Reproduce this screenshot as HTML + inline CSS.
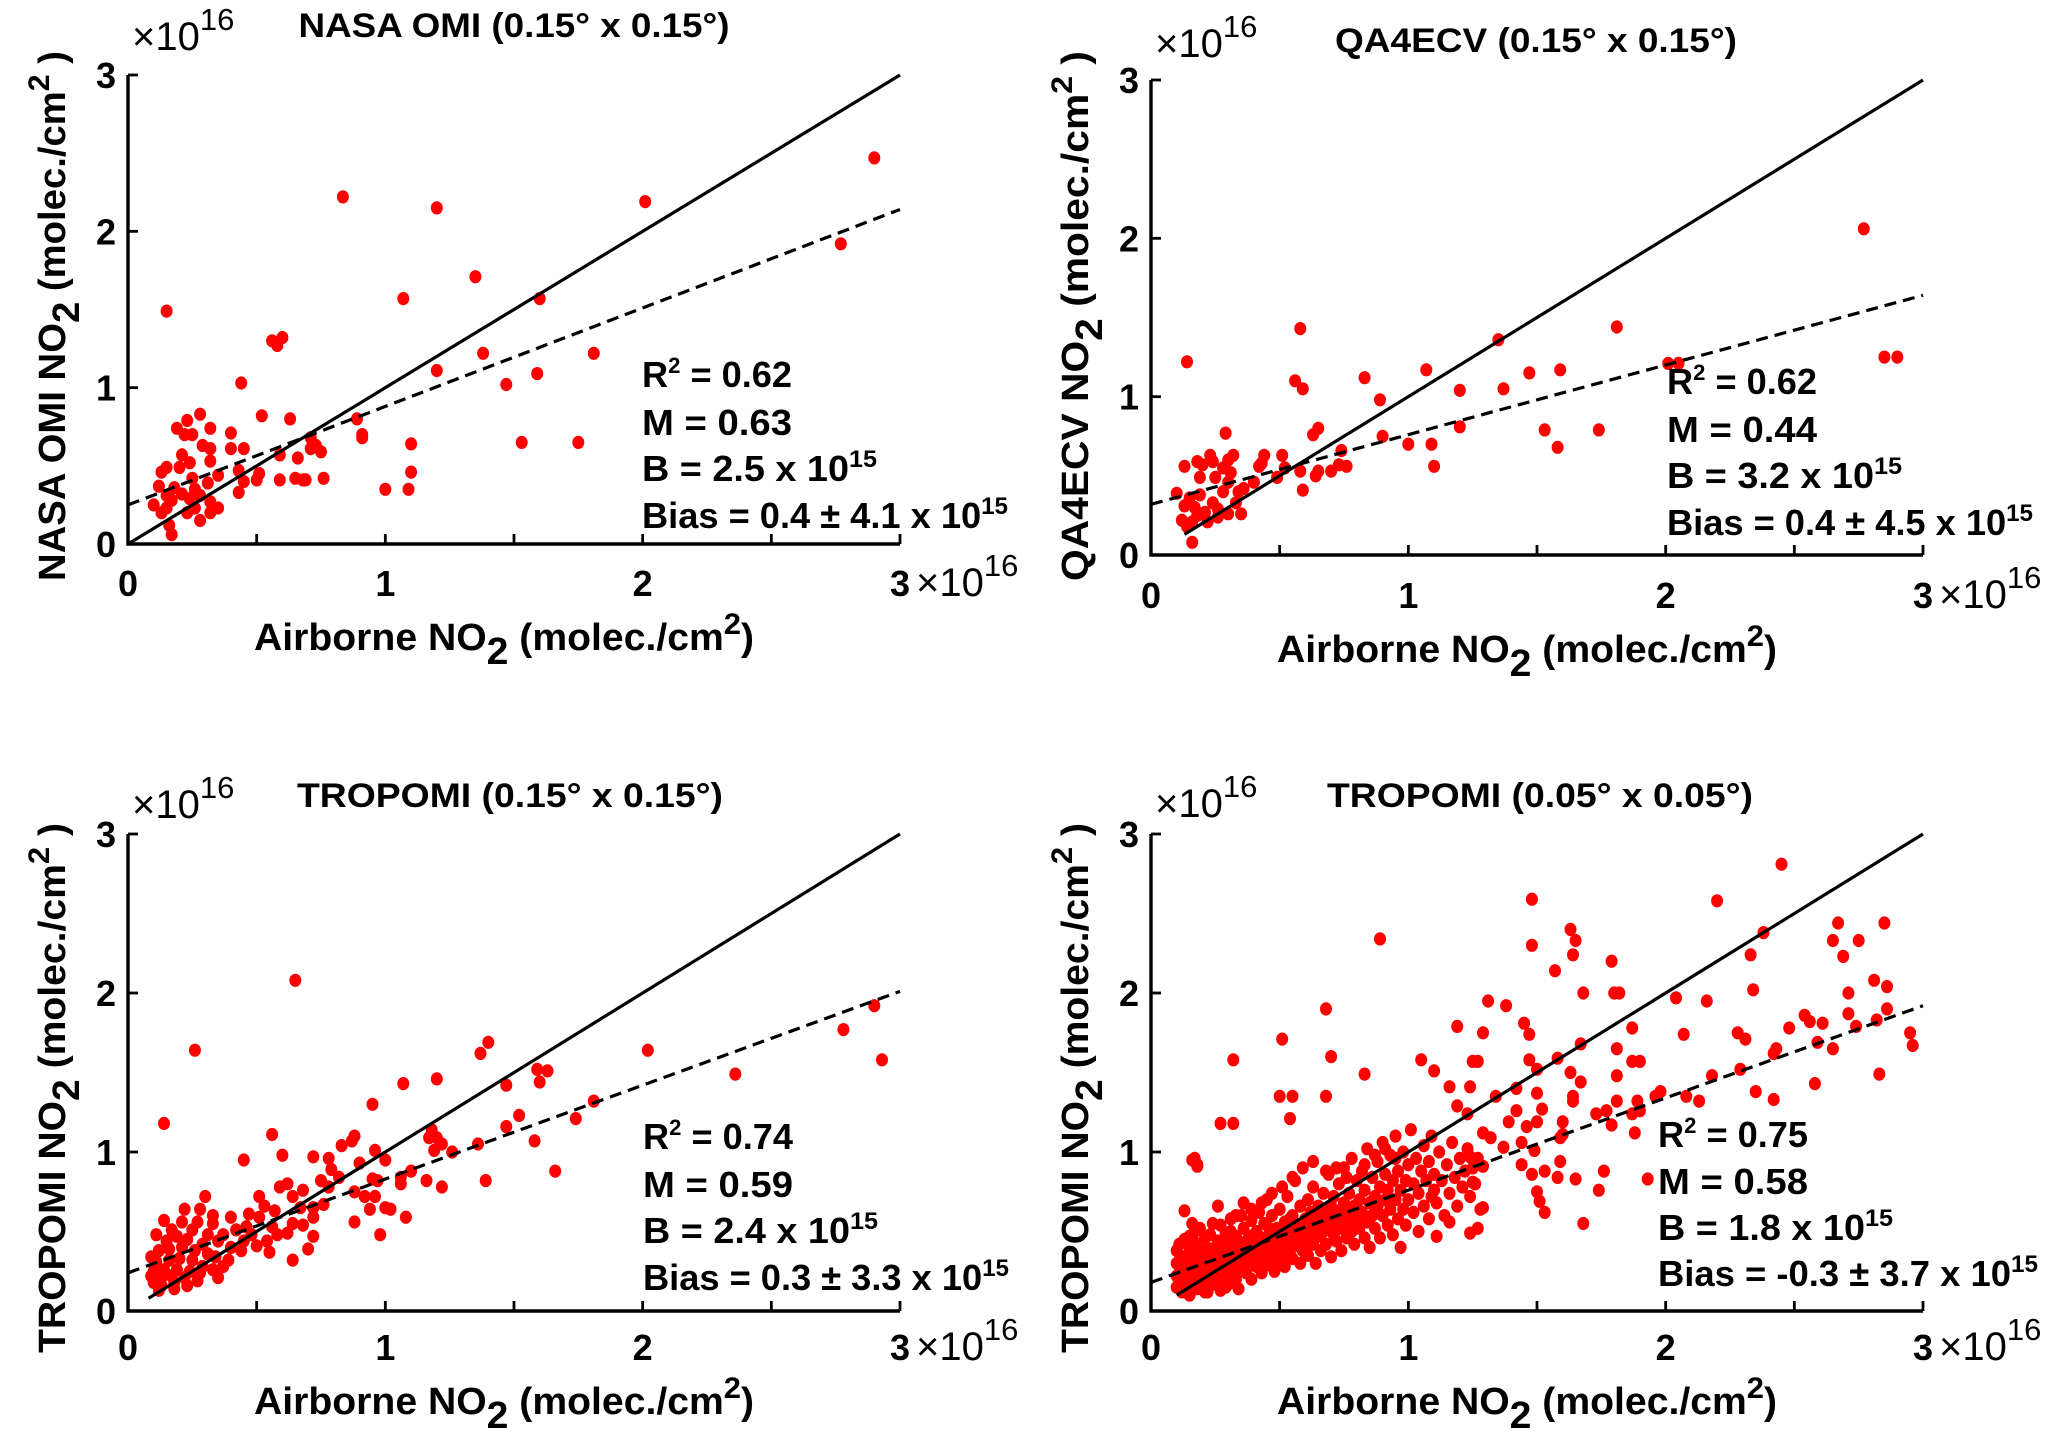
<!DOCTYPE html>
<html>
<head>
<meta charset="utf-8">
<style>
html,body{margin:0;padding:0;background:#fff;}
svg{display:block;font-family:"Liberation Sans",sans-serif;font-weight:bold;}
</style>
</head>
<body>
<svg id="fig" width="2067" height="1451" viewBox="0 0 2067 1451" xmlns="http://www.w3.org/2000/svg"></svg>
<script>
// ---------- data (units of 1e16 molec/cm2) ----------
const tickX = [0, 0.5, 1, 1.5, 2, 2.5, 3];
const tickY = [0, 1, 2, 3];
const tickLabels = ["0", "1", "2", "3"];
const titles = ["NASA OMI (0.15\u00B0 x 0.15\u00B0)", "QA4ECV (0.15\u00B0 x 0.15\u00B0)", "TROPOMI (0.15\u00B0 x 0.15\u00B0)", "TROPOMI (0.05\u00B0 x 0.05\u00B0)"];
const yNames = ["NASA OMI NO", "QA4ECV NO", "TROPOMI NO", "TROPOMI NO"];
const r2Values = ["0.62", "0.62", "0.74", "0.75"];
const slopes = [0.63, 0.44, 0.59, 0.58];
const intercepts = [0.25, 0.32, 0.24, 0.18];
const interceptLabels = ["2.5", "3.2", "2.4", "1.8"];
const biasLabels = ["0.4 \u00B1 4.1", "0.4 \u00B1 4.5", "0.3 \u00B1 3.3", "-0.3 \u00B1 3.7"];
const oneToOneStart = [0, 0.13, 0.08, 0.1];

const tlPoints = [[0.835,2.22],[1.20,2.15],[2.01,2.19],[2.90,2.47],[2.77,1.92],[1.35,1.71],[1.07,1.57],[1.60,1.57],[0.15,1.49],[0.56,1.30],[0.58,1.27],[0.60,1.32],[1.38,1.22],[1.81,1.22],[1.20,1.11],[1.59,1.09],[1.47,1.02],[0.44,1.03],[0.52,0.82],[0.63,0.80],[0.89,0.80],[0.28,0.83],[0.23,0.79],[0.91,0.70],[0.91,0.68],[0.19,0.74],[0.32,0.74],[0.40,0.71],[0.22,0.70],[0.25,0.70],[1.10,0.64],[1.53,0.65],[1.75,0.65],[0.29,0.63],[0.32,0.61],[0.40,0.61],[0.45,0.61],[0.71,0.68],[0.73,0.63],[0.71,0.61],[0.75,0.59],[0.21,0.57],[0.59,0.57],[0.66,0.55],[0.32,0.53],[0.24,0.52],[0.20,0.49],[0.15,0.49],[0.13,0.46],[0.43,0.47],[0.35,0.44],[0.51,0.45],[1.10,0.46],[0.25,0.42],[0.59,0.41],[0.65,0.42],[0.69,0.41],[0.68,0.41],[0.76,0.42],[0.50,0.41],[0.45,0.40],[0.31,0.39],[0.12,0.37],[0.18,0.36],[0.26,0.35],[1.00,0.35],[1.09,0.35],[0.43,0.33],[0.15,0.31],[0.21,0.32],[0.28,0.31],[0.17,0.28],[0.24,0.29],[0.32,0.27],[0.10,0.25],[0.15,0.23],[0.26,0.23],[0.35,0.23],[0.13,0.20],[0.23,0.20],[0.32,0.20],[0.16,0.12],[0.28,0.15],[0.17,0.06]];

const trPoints = [[2.77,2.06],[2.85,1.25],[2.90,1.25],[1.81,1.44],[1.35,1.36],[0.58,1.43],[0.14,1.22],[2.01,1.21],[2.05,1.21],[1.07,1.17],[1.59,1.17],[1.47,1.15],[0.83,1.12],[0.56,1.10],[0.59,1.05],[1.20,1.04],[1.37,1.05],[0.89,0.98],[1.20,0.81],[1.53,0.79],[1.74,0.79],[1.58,0.68],[0.65,0.80],[0.63,0.76],[0.29,0.77],[0.90,0.75],[1.00,0.70],[1.09,0.70],[1.10,0.56],[0.74,0.66],[0.76,0.56],[0.73,0.57],[0.70,0.53],[0.65,0.53],[0.64,0.50],[0.58,0.53],[0.59,0.41],[0.51,0.63],[0.44,0.63],[0.43,0.58],[0.52,0.55],[0.49,0.49],[0.42,0.56],[0.32,0.63],[0.31,0.52],[0.23,0.63],[0.18,0.59],[0.13,0.56],[0.20,0.57],[0.24,0.59],[0.30,0.60],[0.28,0.55],[0.19,0.49],[0.25,0.49],[0.30,0.46],[0.36,0.42],[0.40,0.46],[0.34,0.40],[0.10,0.39],[0.15,0.36],[0.19,0.38],[0.24,0.33],[0.13,0.31],[0.17,0.30],[0.21,0.27],[0.26,0.29],[0.33,0.33],[0.18,0.25],[0.12,0.22],[0.16,0.21],[0.22,0.21],[0.26,0.24],[0.30,0.26],[0.35,0.26],[0.14,0.18],[0.16,0.08],[0.28,0.40]];

const blPoints = [[0.65,2.08],[0.26,1.64],[0.14,1.18],[2.02,1.64],[2.90,1.92],[2.78,1.77],[2.93,1.58],[2.36,1.49],[1.40,1.69],[1.37,1.62],[1.20,1.46],[1.07,1.43],[1.59,1.52],[1.63,1.51],[1.60,1.44],[1.47,1.42],[0.95,1.30],[1.81,1.32],[1.52,1.23],[1.47,1.16],[1.74,1.21],[1.58,1.07],[1.66,0.88],[1.39,0.82],[1.36,1.05],[1.26,1.00],[1.19,1.01],[1.17,1.09],[1.20,1.09],[1.22,1.05],[1.18,1.14],[1.22,0.78],[1.16,0.82],[1.10,0.88],[1.06,0.84],[1.06,0.80],[1.00,0.95],[0.96,1.01],[0.88,1.10],[0.83,1.04],[0.87,1.07],[0.78,0.96],[0.72,0.97],[0.56,1.11],[0.60,0.98],[0.45,0.95],[0.90,0.93],[0.79,0.89],[0.82,0.84],[0.95,0.83],[0.97,0.82],[0.88,0.75],[0.78,0.78],[0.75,0.82],[0.92,0.72],[0.96,0.72],[0.94,0.64],[1.00,0.65],[1.02,0.64],[1.08,0.59],[0.88,0.56],[0.98,0.48],[0.76,0.67],[0.72,0.65],[0.68,0.76],[0.64,0.72],[0.62,0.80],[0.59,0.78],[0.67,0.65],[0.72,0.59],[0.68,0.54],[0.72,0.47],[0.70,0.39],[0.64,0.32],[0.64,0.55],[0.62,0.49],[0.57,0.63],[0.53,0.66],[0.51,0.72],[0.47,0.61],[0.51,0.59],[0.56,0.53],[0.58,0.48],[0.54,0.44],[0.55,0.37],[0.50,0.41],[0.48,0.48],[0.45,0.44],[0.44,0.38],[0.39,0.32],[0.40,0.40],[0.40,0.59],[0.37,0.48],[0.33,0.60],[0.33,0.55],[0.30,0.72],[0.28,0.64],[0.22,0.64],[0.14,0.57],[0.11,0.48],[0.17,0.51],[0.21,0.56],[0.27,0.56],[0.25,0.51],[0.31,0.48],[0.35,0.44],[0.29,0.42],[0.23,0.45],[0.19,0.47],[0.15,0.44],[0.12,0.38],[0.16,0.39],[0.21,0.40],[0.26,0.38],[0.31,0.36],[0.34,0.34],[0.37,0.28],[0.33,0.26],[0.29,0.28],[0.25,0.32],[0.20,0.33],[0.16,0.32],[0.11,0.31],[0.10,0.25],[0.14,0.26],[0.19,0.26],[0.24,0.25],[0.28,0.24],[0.35,0.21],[0.27,0.19],[0.22,0.21],[0.17,0.22],[0.13,0.21],[0.10,0.18],[0.13,0.16],[0.18,0.18],[0.23,0.16],[0.18,0.14],[0.12,0.13],[0.09,0.22],[0.09,0.34],[0.42,0.51],[0.46,0.53]];

const brPoints = [[2.45,2.81],[1.48,2.59],[2.20,2.58],[0.89,2.34],[1.48,2.30],[1.63,2.40],[1.65,2.33],[1.64,2.24],[2.38,2.38],[2.33,2.24],[2.67,2.44],[2.85,2.44],[2.65,2.33],[2.75,2.33],[2.69,2.23],[1.79,2.20],[1.57,2.14],[2.34,2.02],[2.71,2.00],[2.81,2.08],[2.86,2.04],[2.86,1.90],[1.68,2.00],[1.80,2.00],[1.82,2.00],[2.04,1.97],[2.16,1.95],[1.31,1.95],[1.38,1.92],[2.71,1.87],[2.54,1.86],[2.56,1.82],[2.61,1.81],[2.48,1.78],[2.74,1.79],[2.82,1.83],[2.95,1.75],[2.96,1.67],[2.59,1.69],[2.65,1.65],[2.28,1.75],[2.31,1.71],[2.07,1.74],[1.87,1.78],[1.45,1.81],[1.47,1.74],[1.19,1.79],[1.29,1.75],[0.68,1.90],[0.51,1.71],[0.70,1.60],[0.32,1.58],[1.05,1.58],[1.25,1.57],[1.27,1.57],[1.47,1.58],[1.58,1.59],[1.67,1.68],[1.81,1.65],[1.87,1.57],[1.90,1.57],[2.43,1.65],[2.42,1.62],[2.18,1.48],[2.29,1.52],[2.58,1.43],[2.83,1.49],[2.35,1.38],[2.42,1.33],[2.13,1.32],[2.08,1.35],[1.98,1.38],[1.96,1.35],[1.89,1.32],[1.81,1.48],[1.81,1.32],[1.77,1.26],[1.87,1.24],[1.90,1.26],[1.88,1.12],[1.79,1.17],[1.73,1.24],[1.76,0.88],[1.74,0.76],[1.93,0.83],[1.68,0.55],[1.65,0.83],[1.53,0.62],[1.51,0.69],[1.50,0.75],[1.58,0.84],[1.59,0.94],[1.53,0.88],[1.48,0.86],[1.44,0.92],[1.49,1.01],[1.46,1.16],[1.50,1.19],[1.52,1.27],[1.50,1.37],[1.50,1.52],[1.42,1.26],[1.39,1.19],[1.34,1.35],[1.42,1.40],[1.60,1.19],[1.60,1.11],[1.64,1.32],[1.64,1.35],[1.67,1.44],[1.63,1.50],[1.59,1.09],[1.37,1.03],[1.44,1.06],[0.83,1.49],[0.68,1.35],[0.50,1.35],[0.55,1.35],[0.54,1.21],[0.27,1.18],[0.32,1.18],[0.17,0.96],[0.18,0.92],[1.10,1.51],[1.24,1.41],[1.19,1.29],[1.16,1.41],[1.23,1.24],[1.29,1.12],[1.32,1.09],[1.24,0.97],[1.29,0.91],[1.25,0.81],[1.29,0.65],[1.24,0.49],[1.27,0.52],[1.11,0.47],[1.16,0.56],[1.09,0.72],
[0.10,0.15],[0.10,0.22],[0.10,0.30],[0.10,0.38],[0.11,0.42],[0.12,0.12],[0.12,0.19],[0.12,0.26],[0.12,0.34],[0.13,0.45],[0.14,0.16],[0.14,0.23],[0.14,0.31],[0.15,0.38],[0.15,0.10],[0.16,0.20],[0.16,0.28],[0.16,0.35],[0.17,0.43],[0.17,0.50],[0.18,0.14],[0.18,0.24],[0.19,0.32],[0.19,0.40],[0.20,0.18],[0.20,0.27],[0.21,0.36],[0.21,0.46],[0.22,0.12],[0.22,0.22],[0.23,0.30],[0.23,0.39],[0.24,0.55],[0.24,0.17],[0.25,0.26],[0.25,0.34],[0.26,0.44],[0.26,0.66],[0.27,0.13],[0.27,0.21],[0.28,0.30],[0.28,0.38],[0.29,0.49],[0.29,0.25],[0.30,0.17],[0.30,0.34],[0.31,0.42],[0.31,0.58],[0.32,0.29],[0.32,0.22],[0.33,0.37],[0.33,0.47],[0.34,0.14],[0.34,0.27],[0.35,0.33],[0.35,0.41],[0.36,0.52],[0.36,0.68],[0.37,0.24],[0.37,0.30],[0.38,0.38],[0.38,0.46],[0.39,0.20],[0.39,0.57],[0.40,0.34],[0.40,0.43],[0.41,0.28],[0.41,0.50],[0.42,0.62],[0.42,0.38],[0.43,0.24],[0.43,0.46],[0.44,0.33],[0.44,0.55],[0.45,0.40],[0.45,0.70],[0.46,0.29],[0.46,0.48],[0.47,0.36],[0.47,0.60],[0.48,0.43],[0.48,0.25],[0.49,0.52],[0.49,0.32],[0.50,0.40],[0.50,0.64],[0.51,0.47],[0.51,0.35],[0.52,0.56],[0.52,0.28],[0.53,0.44],[0.53,0.72],[0.54,0.38],[0.54,0.52],[0.55,0.60],[0.55,0.33],[0.56,0.46],[0.56,0.82],[0.57,0.41],[0.57,0.54],[0.58,0.66],[0.58,0.30],[0.59,0.49],[0.59,0.38],[0.60,0.58],[0.60,0.44],[0.61,0.70],[0.61,0.35],[0.62,0.52],[0.62,0.62],[0.63,0.42],[0.63,0.78],[0.64,0.56],[0.64,0.30],[0.65,0.47],[0.65,0.66],[0.66,0.38],[0.66,0.58],[0.67,0.74],[0.67,0.50],[0.68,0.62],[0.68,0.42],[0.69,0.86],[0.69,0.55],[0.70,0.66],[0.70,0.34],[0.71,0.48],[0.71,0.72],[0.72,0.58],[0.72,0.44],[0.73,0.80],[0.73,0.63],[0.74,0.52],[0.74,0.38],[0.75,0.68],[0.75,0.90],[0.76,0.56],[0.76,0.46],[0.77,0.74],[0.77,0.62],[0.78,0.50],[0.78,0.96],[0.79,0.66],[0.79,0.42],[0.80,0.58],[0.80,0.82],[0.81,0.70],[0.81,0.52],[0.82,0.88],[0.82,0.62],[0.83,0.46],[0.83,0.76],[0.84,0.56],[0.84,1.02],[0.85,0.68],[0.85,0.40],[0.86,0.84],[0.86,0.60],[0.87,0.72],[0.87,0.52],[0.88,0.94],[0.88,0.66],[0.89,0.78],[0.89,0.46],[0.90,0.60],[0.90,1.06],[0.91,0.70],[0.91,0.86],[0.92,0.54],[0.92,0.76],[0.93,0.98],[0.93,0.64],[0.94,0.82],[0.94,0.48],[0.95,0.70],[0.95,1.10],[0.96,0.58],[0.96,0.88],[0.97,0.76],[0.97,0.40],[0.98,0.64],[0.98,1.00],[0.99,0.82],[0.99,0.54],[1.00,0.70],[1.00,0.92],[1.01,1.14],[1.02,0.62],[1.02,0.80],[1.03,0.96],[1.04,0.74],[1.04,0.50],[1.05,0.88],[1.06,1.04],[1.06,0.66],[1.07,0.82],[1.08,0.58],[1.08,0.94],[1.09,1.10],[1.10,0.76],[1.10,0.86],[1.11,0.68],[1.12,1.00],[1.13,0.82],[1.14,0.60],[1.15,0.92],[1.16,0.74],[1.17,1.06],[1.18,0.84],[1.19,0.66],[1.20,0.96],[1.21,0.78],[1.22,0.88],[1.23,1.02],[1.24,0.72],[1.25,0.90],[1.26,0.80],[1.27,0.96],[1.28,0.64],
[0.11,0.20],[0.13,0.28],[0.15,0.25],[0.17,0.30],[0.18,0.36],[0.20,0.33],[0.22,0.28],[0.24,0.38],[0.26,0.31],[0.28,0.42],[0.30,0.26],[0.32,0.36],[0.34,0.44],[0.36,0.38],[0.38,0.32],[0.40,0.48],[0.42,0.30],[0.44,0.42],[0.46,0.52],[0.48,0.37],[0.50,0.46],[0.52,0.40],[0.54,0.58],[0.56,0.50],[0.58,0.44],[0.60,0.52],[0.62,0.46],[0.64,0.62],[0.66,0.50],[0.68,0.56],[0.70,0.60],[0.72,0.52],[0.74,0.60],[0.76,0.66],[0.78,0.56],[0.80,0.64],[0.19,0.15],[0.21,0.12],[0.25,0.19],[0.29,0.15],[0.33,0.20],[0.15,0.47],[0.19,0.52],[0.23,0.48],[0.27,0.54],[0.31,0.50],[0.35,0.60],[0.39,0.64],[0.43,0.68],[0.47,0.74],[0.51,0.78],[0.55,0.84],[0.59,0.90],[0.63,0.94],[0.68,0.88],[0.72,0.90],[0.76,0.84],[0.83,0.92],[0.87,0.98],[0.91,1.02],[0.95,0.96],[0.13,0.63],[0.16,0.95],[0.18,0.91],[0.33,0.60],[0.16,0.55]];

const allPoints = [tlPoints, trPoints, blPoints, brPoints];

// ---------- layout ----------
const panels = [
 {key:"nasa-omi-015", x0:128, x3:900, y0:544, y3:75, titleX:514, titleY:37, titleW:431, expY:50, tickLabY:596, xLabY:650, yLabX:52, yLabC:316, statX:642, statY:[387,435,481,528]},
 {key:"qa4ecv-015", x0:1151, x3:1923, y0:555, y3:80, titleX:1536, titleY:52, titleW:402, expY:57, tickLabY:608, xLabY:662, yLabX:1075, yLabC:316, statX:1667, statY:[394,442,488,535]},
 {key:"tropomi-015", x0:128, x3:900, y0:1311, y3:834, titleX:510, titleY:807, titleW:426, expY:818, tickLabY:1360, xLabY:1414, yLabX:52, yLabC:1088, statX:643, statY:[1149,1197,1243,1290]},
 {key:"tropomi-005", x0:1151, x3:1923, y0:1311, y3:834, titleX:1540, titleY:807, titleW:426, expY:817, tickLabY:1360, xLabY:1414, yLabX:1075, yLabC:1088, statX:1658, statY:[1147,1194,1240,1286]}
];
const NS = "http://www.w3.org/2000/svg";
const svg = document.getElementById("fig");
function mk(tag, attrs, parent){
  const e = document.createElementNS(NS, tag);
  for (const k in attrs) e.setAttribute(k, attrs[k]);
  (parent||svg).appendChild(e);
  return e;
}
function sx(p, v){ return p.x0 + v*(p.x3-p.x0)/3; }
function sy(p, v){ return p.y0 - v*(p.y0-p.y3)/3; }
function txt(parent, x, y, size, content, extra){
  const t = mk("text", Object.assign({x:x, y:y, "font-size":size, fill:"#000"}, extra||{}), parent);
  t.innerHTML = content;
  return t;
}

panels.forEach((p, i) => {
  const g = mk("g", {});
  
  

  const pg = mk("g", {fill:"#ff0000"}, g);
  
  
  allPoints[i].forEach(pt => {
    const c = mk("ellipse", {cx:sx(p,pt[0]).toFixed(1), cy:sy(p,pt[1]).toFixed(1), rx:6, ry:6.6}, pg);
    
    
  });

  const s0 = oneToOneStart[i];
  const l1 = mk("line", {x1:sx(p,s0), y1:sy(p,s0), x2:sx(p,3), y2:sy(p,3), stroke:"#000", "stroke-width":3.2}, g);
  
  
  const l2 = mk("line", {x1:sx(p,0), y1:sy(p,intercepts[i]), x2:sx(p,3), y2:sy(p,intercepts[i]+slopes[i]*3), stroke:"#000", "stroke-width":3.2, "stroke-dasharray":"12 7"}, g);
  
  

  const ax = mk("path", {d:`M${p.x0},${p.y3} L${p.x0},${p.y0} L${p.x3},${p.y0}`, fill:"none", stroke:"#000", "stroke-width":3.4}, g);
  
  
  tickX.forEach(v => {
    const t = mk("line", {x1:sx(p,v), y1:p.y0, x2:sx(p,v), y2:p.y0-10, stroke:"#000", "stroke-width":2.8}, g);
    
    
  });
  tickY.forEach(v => {
    const t = mk("line", {x1:p.x0, y1:sy(p,v), x2:p.x0+10, y2:sy(p,v), stroke:"#000", "stroke-width":2.8}, g);
    
    
  });
  tickY.forEach((v, k) => {
    const t = txt(g, p.x0-12, sy(p,v)+13, 36, tickLabels[k], {"text-anchor":"end"});
    
    
  });
  tickY.forEach((v, k) => {
    const t = txt(g, sx(p,v), p.tickLabY, 36, tickLabels[k], {"text-anchor":"middle"});
    
    
  });
  const ex = txt(g, sx(p,3)+16, p.tickLabY, 40, '\u00D710<tspan dy="-20" font-size="31">16</tspan>', {"font-weight":"normal"});
  
  
  const ey = txt(g, p.x0+4, p.expY, 40, '\u00D710<tspan dy="-20" font-size="31">16</tspan>', {"font-weight":"normal"});
  
  

  const ti = txt(g, p.titleX, p.titleY, 34, titles[i], {"text-anchor":"middle", textLength:p.titleW, lengthAdjust:"spacingAndGlyphs"});
  
  

  const xl = txt(g, (p.x0+p.x3)/2 - 10, p.xLabY, 38, 'Airborne NO<tspan dy="14">2</tspan><tspan dy="-14"> (molec./cm</tspan><tspan dy="-16" font-size="30">2</tspan><tspan dy="16">)</tspan>', {"text-anchor":"middle", textLength:500, lengthAdjust:"spacingAndGlyphs"});
  
  

  const yl = txt(g, 0, 0, 38, yNames[i] + '<tspan dy="14">2</tspan><tspan dy="-14">  (molec./cm</tspan><tspan dy="-16" font-size="30">2</tspan><tspan dy="16"> )</tspan>', {"text-anchor":"middle", textLength:530, lengthAdjust:"spacingAndGlyphs", transform:`translate(${p.yLabX+13},${p.yLabC}) rotate(-90)`});
  
  

  const st = mk("g", {}, g);
  
  
  const a = txt(st, p.statX, p.statY[0], 36, 'R<tspan dy="-14" font-size="22">2</tspan><tspan dy="14"> = ' + r2Values[i] + '</tspan>', {textLength:150, lengthAdjust:"spacingAndGlyphs"});
  
  
  const b = txt(st, p.statX, p.statY[1], 36, 'M = ' + slopes[i].toFixed(2), {textLength:150, lengthAdjust:"spacingAndGlyphs"});
  
  
  const c = txt(st, p.statX, p.statY[2], 36, 'B  = ' + interceptLabels[i] + ' x 10<tspan dy="-14" font-size="24">15</tspan>', {textLength:235, lengthAdjust:"spacingAndGlyphs"});
  
  
  const d = txt(st, p.statX, p.statY[3], 36, 'Bias = ' + biasLabels[i] + ' x 10<tspan dy="-14" font-size="24">15</tspan>', {textLength: i===3 ? 380 : 366, lengthAdjust:"spacingAndGlyphs"});
  
  
});
</script>
</body>
</html>
